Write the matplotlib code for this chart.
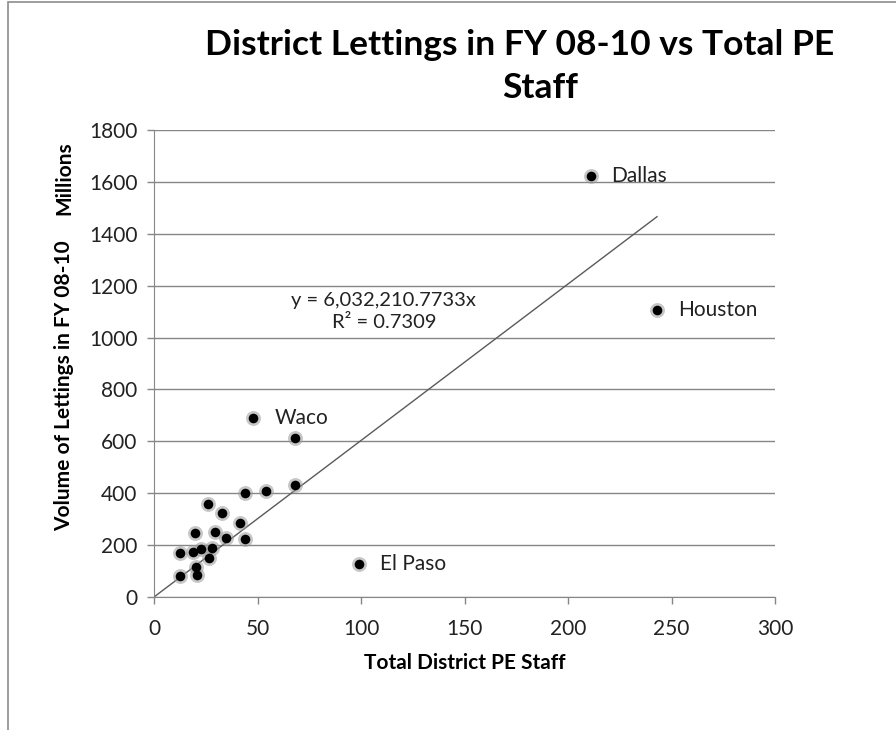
import numpy as np
import matplotlib.pyplot as plt
from matplotlib.patches import Rectangle

# DATA (staff count vs lettings in millions)
staff = [211, 243, 48, 99, 68, 68, 54, 44, 26, 33, 41.5, 29.5, 20, 34.6, 44,
         12.6, 19, 22.5, 28, 26.7, 20.3, 12.6, 20.9]
lettings = [1624, 1106, 689, 128, 612, 432, 410, 400, 357, 323, 286, 252, 248, 226, 222,
            168, 175, 185, 188, 149, 114, 81, 85]
labels = {0: 'Dallas', 1: 'Houston', 2: 'Waco', 3: 'El Paso'}
slope = 6.0322107733  # millions per staff
r_squared = 0.7309

x_ticks = [0, 50, 100, 150, 200, 250, 300]
y_ticks = [0, 200, 400, 600, 800, 1000, 1200, 1400, 1600, 1800]

plt.rcParams['font.family'] = ['Lato', 'DejaVu Sans']
grey = '#868686'
txt = '#222222'

fig = plt.figure(figsize=(8.96, 7.3), dpi=100)
fig.patches.append(Rectangle((8 / 896, -0.1), 1.2, 1 - 2 / 730 + 0.1, transform=fig.transFigure,
                             fill=False, edgecolor='#8c8c8c', linewidth=1.2))

ax = fig.add_axes([154 / 896, 1 - 597 / 730, (775 - 154) / 896, (597 - 130) / 730])
ax.set_xlim(0, 300)
ax.set_ylim(0, 1800)
ax.set_xticks(x_ticks)
ax.set_yticks(y_ticks)
ax.grid(axis='y', color=grey, linewidth=1)
ax.set_axisbelow(True)
for side in ['top', 'right']:
    ax.spines[side].set_visible(False)
for side in ['left', 'bottom']:
    ax.spines[side].set_color(grey)
ax.tick_params(axis='both', colors=grey, length=5, width=1, labelsize=15, labelcolor=txt)
ax.tick_params(axis='x', pad=11)
ax.tick_params(axis='y', pad=7)

# TREND LINE
xs = np.array([0, max(staff)])
ax.plot(xs, slope * xs, color='#5a5a5a', linewidth=1)

# POINTS WITH SOFT SHADOW
ax.scatter(staff, lettings, s=115, color='#999999', alpha=0.55, linewidths=0, zorder=3)
ax.scatter(staff, lettings, s=48, color='black', linewidths=0, zorder=4)

for i, name in labels.items():
    ax.annotate(name, (staff[i], lettings[i]), xytext=(15, 0), textcoords='offset points',
                va='center', ha='left', fontsize=15, color=txt, zorder=5)

ax.text(111, 1100, f'y = 6,032,210.7733x\nR² = {r_squared}', ha='center', va='center',
        fontsize=14.5, color=txt, linespacing=1.35)

# TITLES AND LABELS
fig.text(520 / 896, 1 - 45 / 730, 'District Lettings in FY 08-10 vs Total PE', ha='center', va='center',
         fontsize=25.5, fontweight='bold')
fig.text(540 / 896, 1 - 88 / 730, 'Staff', ha='center', va='center', fontsize=25.5, fontweight='bold')
fig.text(465 / 896, 1 - 663 / 730, 'Total District PE Staff', ha='center', va='center',
         fontsize=15, fontweight='bold')
fig.text(64 / 896, 1 - 386 / 730, 'Volume of Lettings in FY 08-10', ha='center', va='center',
         rotation=90, fontsize=15, fontweight='bold')
fig.text(64 / 896, 1 - 178 / 730, 'Millions', ha='center', va='center',
         rotation=90, fontsize=15, fontweight='bold')

fig.savefig('out.png', dpi=100)
